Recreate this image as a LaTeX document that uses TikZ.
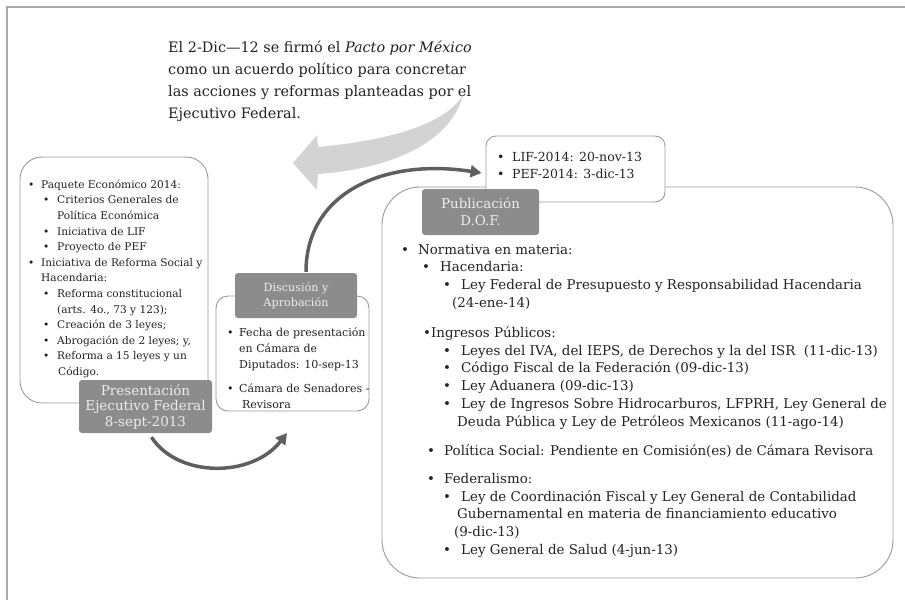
\documentclass[tikz,border=0pt]{standalone}
\usepackage{fontspec}
\setmainfont{DejaVu Serif}
\usetikzlibrary{arrows.meta}
\definecolor{sgline}{HTML}{9A9A9A}
\definecolor{sglabel}{HTML}{8C8C8C}
\definecolor{sglabeltext}{HTML}{EDEDED}
\definecolor{sgarrow}{HTML}{5F5F5F}
\definecolor{sgbig}{HTML}{D3D3D3}
\definecolor{sgframe}{HTML}{A9A9A9}
\definecolor{sgtext}{HTML}{222222}
\newcommand{\itm}[2]{\hspace*{#1pt}\makebox[#2pt][l]{\textbullet}}
\newcommand{\indt}[1]{\hspace*{#1pt}}

\begin{document}
\begin{tikzpicture}[x=1pt, y=-1pt,
    panel/.style={rectangle, draw=sgline, fill=white, line width=0.9pt, inner sep=0pt},
    tag/.style={rectangle, fill=sglabel, text=sglabeltext, rounded corners=3pt, align=center, inner sep=0pt},
    items/.style={anchor=north west, align=left, inner sep=0pt, text=sgtext},
    flow/.style={draw=sgarrow, line width=3.5pt, -{Triangle[length=11pt,width=12pt]}}]
    \useasboundingbox (0,0) rectangle (905,600);
    \draw[sgframe, line width=1.3pt] (7,600) -- (7,7) -- (905,7);

    \fill[sgbig] (293,163) -- (317,135) -- (318,147) .. controls (392,140) and (445,124) .. (463,95)
        .. controls (452,138) and (400,168) .. (318,174) -- (317,190) -- cycle;
    \node[items, font={\fontsize{14.4}{22}\selectfont}] (pacto) at (168,36.6) {\strut El 2-Dic—12 se firmó el \textit{Pacto por México}\\ como un acuerdo político para concretar\\ las acciones y reformas planteadas por el\\ Ejecutivo Federal.};

    \node[panel, rounded corners=22pt, minimum width=188pt, minimum height=246pt] (presbox) at (114,280) {};
    \node[items, font={\fontsize{10.6}{15.6}\selectfont}] (presitems) at (25,177.1) {\itm{3}{13}\strut Paquete Económico 2014:\\
        \itm{18}{14}Criterios Generales de\\
        \indt{32}Política Económica\\
        \itm{18}{14}Iniciativa de LIF\\
        \itm{18}{14}Proyecto de PEF\\
        \itm{3}{13}Iniciativa de Reforma Social y\\
        \indt{16}Hacendaria:\\
        \itm{18}{14}Reforma constitucional\\
        \indt{32}(arts. 4o., 73 y 123);\\
        \itm{18}{14}Creación de 3 leyes;\\
        \itm{18}{14}Abrogación de 2 leyes; y,\\
        \itm{18}{14}Reforma a 15 leyes y un\\
        \indt{33}Código.};
    \node[tag, minimum width=133pt, minimum height=53pt, font={\fontsize{13.5}{15.5}\selectfont}] (pres) at (145.5,406.5) {Presentación\\ Ejecutivo Federal\\ 8-sept-2013};

    \node[panel, rounded corners=12pt, minimum width=153pt, minimum height=115pt] (discbox) at (292.5,353.5) {};
    \node[tag, minimum width=122pt, minimum height=45pt, font={\fontsize{11.2}{15}\selectfont}] (disctag) at (296,295.5) {Discusión y\\ Aprobación};
    \node[items, font={\fontsize{11}{16}\selectfont}] (discitems) at (224,324.8) {\itm{3}{12}\strut Fecha de presentación\\
        \indt{15}en Cámara de\\
        \indt{15}Diputados: 10-sep-13\\[8pt]
        \itm{3}{12}Cámara de Senadores -\\
        \indt{18}Revisora};

    \node[panel, rounded corners=38pt, minimum width=511pt, minimum height=391pt] (pubbox) at (637.5,382.5) {};
    \node[panel, rounded corners=10pt, minimum width=179pt, minimum height=66pt] (lifbox) at (575.5,169) {};
    \node[items, font={\fontsize{12.5}{17}\selectfont}] (lifitems) at (494,149.1) {\itm{3}{15}\strut LIF-2014: 20-nov-13\\
        \itm{3}{15}PEF-2014: 3-dic-13};
    \node[tag, minimum width=117pt, minimum height=46pt, font={\fontsize{13.4}{17}\selectfont}] (pub) at (480.5,212) {Publicación\\ D.O.F.};
    \node[items, font={\fontsize{13.4}{17.8}\selectfont}] (pubitems) at (398,241.4) {\itm{3}{17}\strut Normativa en materia:\\
        \itm{24}{18}Hacendaria:\\
        \itm{45}{18}Ley Federal de Presupuesto y Responsabilidad Hacendaria\\
        \indt{54}(24-ene-14)\\[12pt]
        \indt{25}\textbullet Ingresos Públicos:\\
        \itm{45}{18}Leyes del IVA, del IEPS, de Derechos y la del ISR\ \ (11-dic-13)\\
        \itm{45}{18}Código Fiscal de la Federación (09-dic-13)\\
        \itm{45}{18}Ley Aduanera (09-dic-13)\\
        \itm{45}{18}Ley de Ingresos Sobre Hidrocarburos, LFPRH, Ley General de\\
        \indt{59}Deuda Pública y Ley de Petróleos Mexicanos (11-ago-14)\\[11pt]
        \itm{29}{17}Política Social: Pendiente en Comisión(es) de Cámara Revisora\\[10.5pt]
        \itm{29}{17}Federalismo:\\
        \itm{45}{18}Ley de Coordinación Fiscal y Ley General de Contabilidad\\
        \indt{59}Gubernamental en materia de financiamiento educativo\\
        \indt{56}(9-dic-13)\\
        \itm{45}{18}Ley General de Salud (4-jun-13)};

    \coordinate (discend) at (287,433);
    \draw[flow] ([xshift=6pt,yshift=-4pt]pres.south) .. controls (178,478) and (252,478) .. (discend);
    \draw[flow] ([xshift=10pt,yshift=1pt]disctag.north) .. controls (306,192) and (385,158) .. ([xshift=-4pt,yshift=-4pt]lifbox.west);
\end{tikzpicture}
\end{document}
